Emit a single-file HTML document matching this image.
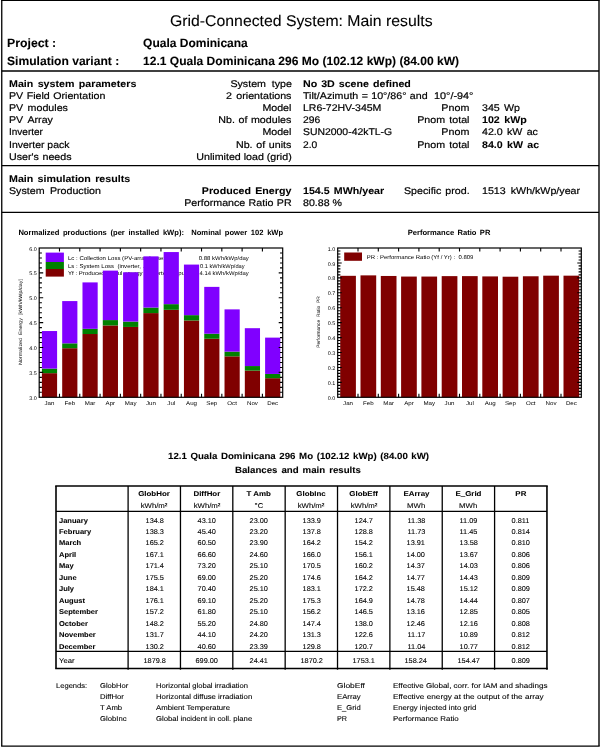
<!DOCTYPE html>
<html lang="en"><head><meta charset="utf-8"><title>Grid-Connected System: Main results</title><style>
html,body{margin:0;padding:0;background:#fff}
body{width:601px;height:750px;position:relative;overflow:hidden;font-family:"Liberation Sans",Arial,sans-serif;color:#000;text-rendering:geometricPrecision}
.t{position:absolute;white-space:pre;line-height:1;display:block;-webkit-text-stroke:0.2px #000;transform-origin:0 0}
.b{font-weight:700;-webkit-text-stroke-width:0.08px}
.th{-webkit-text-stroke-width:0.1px}
.f7{font-size:7px}
.f7_5{font-size:7.5px}
.f9{font-size:9px}
.f9_7{font-size:9.7px}
.f12{font-size:12px}
.f15_5{font-size:15.5px}

.l{position:absolute}
svg text{white-space:pre}
</style></head>
<body>
<svg class="rules" width="601" height="750" viewBox="0 0 601 750" style="position:absolute;left:0;top:0" stroke="#000" fill="none"><path d="M1.10 0.30H599.70" stroke-width="1.3"/><path d="M1.10 746.10H599.70" stroke-width="1.3"/><path d="M1.75 0.30V746.10" stroke-width="1.3"/><path d="M599.00 0.30V746.10" stroke-width="1.4"/><path d="M1.75 71.00H599.00" stroke-width="1.3"/><path d="M1.75 165.60H599.00" stroke-width="1.3"/><path d="M1.75 212.40H599.00" stroke-width="1.35"/><path d="M55.20 486.00H547.75" stroke-width="1.6"/><path d="M55.20 668.50H547.75" stroke-width="1.5"/><path d="M56.00 511.40H546.95" stroke-width="1.35"/><path d="M56.00 651.40H546.95" stroke-width="1.25"/><path d="M56.00 486.00V668.50" stroke-width="1.6"/><path d="M546.95 486.00V669.70" stroke-width="1.6"/><path d="M128.10 486.00V669.70" stroke-width="1.3"/><path d="M180.46 486.00V669.70" stroke-width="1.3"/><path d="M232.81 486.00V669.70" stroke-width="1.3"/><path d="M285.17 486.00V669.70" stroke-width="1.3"/><path d="M337.52 486.00V669.70" stroke-width="1.3"/><path d="M389.88 486.00V669.70" stroke-width="1.3"/><path d="M442.24 486.00V669.70" stroke-width="1.3"/><path d="M494.59 486.00V669.70" stroke-width="1.3"/></svg>
<!-- page frame -->
<!-- header -->
<span class="t f15_5" style="top:14.00px;left:170.07px;transform:scaleX(1.0193);-webkit-text-stroke-width:0.1px;">Grid-Connected System: Main results</span>
<span class="t b f12" style="top:36.80px;left:7.48px;transform:scaleX(1.0247);">Project :</span>
<span class="t b f12" style="top:36.80px;left:143.08px;">Quala Dominicana</span>
<span class="t b f12" style="top:55.00px;left:7.48px;transform:scaleX(1.0076);">Simulation variant :</span>
<span class="t b f12" style="top:55.00px;left:143.48px;transform:scaleX(1.0039);">12.1 Quala Dominicana 296 Mo (102.12 kWp) (84.00 kW)</span>
<!-- main system parameters -->
<span class="t b f9_7" style="top:80.00px;word-spacing:1.330px;left:9.42px;transform:scaleX(1.1000);">Main system parameters</span>
<span class="t f9_7" style="top:92.10px;word-spacing:0.448px;left:9.42px;transform:scaleX(1.1000);">PV Field Orientation</span>
<span class="t f9_7" style="top:104.20px;word-spacing:1.310px;left:9.42px;transform:scaleX(1.1000);">PV modules</span>
<span class="t f9_7" style="top:116.30px;word-spacing:1.698px;left:9.42px;transform:scaleX(1.1000);">PV Array</span>
<span class="t f9_7" style="top:128.40px;left:9.42px;transform:scaleX(1.0330);">Inverter</span>
<span class="t f9_7" style="top:140.50px;left:9.42px;transform:scaleX(1.0785);">Inverter pack</span>
<span class="t f9_7" style="top:152.60px;word-spacing:0.576px;left:9.42px;transform:scaleX(1.1000);">User's needs</span>
<span class="t f9_7" style="top:80.00px;word-spacing:2.513px;left:235.51px;transform-origin:100% 0;transform:scaleX(1.1000);">System type</span>
<span class="t f9_7" style="top:92.10px;word-spacing:1.280px;left:231.87px;transform-origin:100% 0;transform:scaleX(1.1000);">2 orientations</span>
<span class="t f9_7" style="top:104.20px;left:264.97px;transform-origin:100% 0;transform:scaleX(1.0965);">Model</span>
<span class="t f9_7" style="top:116.30px;word-spacing:0.549px;left:225.05px;transform-origin:100% 0;transform:scaleX(1.1000);">Nb. of modules</span>
<span class="t f9_7" style="top:128.40px;left:264.97px;transform-origin:100% 0;transform:scaleX(1.0965);">Model</span>
<span class="t f9_7" style="top:140.50px;word-spacing:0.682px;left:240.96px;transform-origin:100% 0;transform:scaleX(1.1000);">Nb. of units</span>
<span class="t f9_7" style="top:152.60px;left:204.59px;transform-origin:100% 0;transform:scaleX(1.1000);">Unlimited load (grid)</span>
<span class="t b f9_7" style="top:80.00px;word-spacing:0.915px;left:303.12px;transform:scaleX(1.1000);">No 3D scene defined</span>
<span class="t f9_7" style="top:92.10px;word-spacing:0.386px;left:303.12px;transform:scaleX(1.1000);">Tilt/Azimuth = 10°/86° and</span>
<span class="t f9_7" style="top:92.10px;left:433.92px;transform:scaleX(1.1193);">10°/-94°</span>
<span class="t f9_7" style="top:104.20px;left:303.12px;transform:scaleX(1.0861);">LR6-72HV-345M</span>
<span class="t f9_7" style="top:116.30px;left:303.12px;transform:scaleX(1.0671);">296</span>
<span class="t f9_7" style="top:128.40px;left:303.12px;transform:scaleX(1.0752);">SUN2000-42kTL-G</span>
<span class="t f9_7" style="top:140.50px;left:303.12px;transform:scaleX(1.0583);">2.0</span>
<span class="t f9_7" style="top:104.20px;left:444.35px;transform-origin:100% 0;transform:scaleX(1.1038);">Pnom</span>
<span class="t f9_7" style="top:116.30px;word-spacing:1.149px;left:422.17px;transform-origin:100% 0;transform:scaleX(1.1000);">Pnom total</span>
<span class="t f9_7" style="top:128.40px;left:444.35px;transform-origin:100% 0;transform:scaleX(1.1038);">Pnom</span>
<span class="t f9_7" style="top:140.50px;word-spacing:1.149px;left:422.17px;transform-origin:100% 0;transform:scaleX(1.1000);">Pnom total</span>
<span class="t f9_7" style="top:104.20px;word-spacing:1.089px;left:481.92px;transform:scaleX(1.1000);">345 Wp</span>
<span class="t b f9_7" style="top:116.30px;word-spacing:1.346px;left:481.92px;transform:scaleX(1.1000);">102 kWp</span>
<span class="t f9_7" style="top:128.40px;word-spacing:1.181px;left:481.92px;transform:scaleX(1.1000);">42.0 kW ac</span>
<span class="t b f9_7" style="top:140.50px;word-spacing:1.228px;left:481.92px;transform:scaleX(1.1000);">84.0 kW ac</span>
<!-- main simulation results -->
<span class="t b f9_7" style="top:174.60px;word-spacing:1.223px;left:9.42px;transform:scaleX(1.1000);">Main simulation results</span>
<span class="t f9_7" style="top:186.70px;word-spacing:2.201px;left:9.42px;transform:scaleX(1.1000);">System Production</span>
<span class="t b f9_7" style="top:186.70px;word-spacing:1.113px;left:209.56px;transform-origin:100% 0;transform:scaleX(1.1000);">Produced Energy</span>
<span class="t f9_7" style="top:198.80px;word-spacing:0.376px;left:193.60px;transform-origin:100% 0;transform:scaleX(1.1000);">Performance Ratio PR</span>
<span class="t b f9_7" style="top:186.70px;word-spacing:1.098px;left:303.12px;transform:scaleX(1.1000);">154.5 MWh/year</span>
<span class="t f9_7" style="top:198.80px;left:303.12px;transform:scaleX(1.0949);">80.88 %</span>
<span class="t f9_7" style="top:186.70px;word-spacing:0.931px;left:403.72px;transform:scaleX(1.1000);">Specific prod.</span>
<span class="t f9_7" style="top:186.70px;word-spacing:1.912px;left:482.32px;transform:scaleX(1.1000);">1513 kWh/kWp/year</span>
<!-- charts -->
<svg class="charts" width="601" height="200" viewBox="0 215 601 200" style="position:absolute;left:0;top:215px" font-family="Liberation Sans, Arial, sans-serif">
<g id="normalized-productions"><text x="18.40" y="235.00" font-size="7.6" font-weight="700" word-spacing="1.527">Normalized productions (per installed kWp):  Nominal power 102 kWp</text><text x="22.00" y="322.00" font-size="4.8" text-anchor="middle" textLength="86.00" lengthAdjust="spacingAndGlyphs" transform="rotate(-90 22.00 322.00)">Normalized  Energy  [kWh/kWp/day]</text><text x="68.00" y="260.00" font-size="5.6" textLength="100.50" lengthAdjust="spacingAndGlyphs">Lc : Collection Loss (PV-array losses)</text><text x="68.00" y="267.60" font-size="5.6" textLength="81.67" lengthAdjust="spacingAndGlyphs">Ls : System Loss  (inverter, ...)</text><text x="68.00" y="275.20" font-size="5.6" textLength="120.69" lengthAdjust="spacingAndGlyphs">Yf : Produced useful energy  (inverter output)</text><text x="198.80" y="260.00" font-size="5.6" textLength="50.00" lengthAdjust="spacingAndGlyphs">0.88 kWh/kWp/day</text><text x="200.00" y="267.60" font-size="5.6" textLength="44.60" lengthAdjust="spacingAndGlyphs">0.1 kWh/kWp/day</text><text x="199.50" y="275.20" font-size="5.6" textLength="49.30" lengthAdjust="spacingAndGlyphs">4.14 kWh/kWp/day</text><rect x="41.90" y="373.16" width="15.2" height="24.14" fill="#800000"/><rect x="41.90" y="368.60" width="15.2" height="4.56" fill="#008000"/><rect x="41.90" y="331.04" width="15.2" height="37.56" fill="#8000ff"/><rect x="62.19" y="348.21" width="15.2" height="49.09" fill="#800000"/><rect x="62.19" y="343.34" width="15.2" height="4.87" fill="#008000"/><rect x="62.19" y="301.08" width="15.2" height="42.26" fill="#8000ff"/><rect x="82.48" y="334.02" width="15.2" height="63.28" fill="#800000"/><rect x="82.48" y="328.83" width="15.2" height="5.19" fill="#008000"/><rect x="82.48" y="282.40" width="15.2" height="46.43" fill="#8000ff"/><rect x="102.78" y="325.44" width="15.2" height="71.86" fill="#800000"/><rect x="102.78" y="320.08" width="15.2" height="5.36" fill="#008000"/><rect x="102.78" y="270.62" width="15.2" height="49.45" fill="#8000ff"/><rect x="123.07" y="326.94" width="15.2" height="70.36" fill="#800000"/><rect x="123.07" y="321.60" width="15.2" height="5.34" fill="#008000"/><rect x="123.07" y="272.28" width="15.2" height="49.31" fill="#8000ff"/><rect x="143.36" y="313.09" width="15.2" height="84.21" fill="#800000"/><rect x="143.36" y="307.57" width="15.2" height="5.52" fill="#008000"/><rect x="143.36" y="256.36" width="15.2" height="51.21" fill="#8000ff"/><rect x="163.65" y="309.81" width="15.2" height="87.49" fill="#800000"/><rect x="163.65" y="304.15" width="15.2" height="5.66" fill="#008000"/><rect x="163.65" y="252.06" width="15.2" height="52.09" fill="#8000ff"/><rect x="183.94" y="320.50" width="15.2" height="76.80" fill="#800000"/><rect x="183.94" y="315.15" width="15.2" height="5.34" fill="#008000"/><rect x="183.94" y="264.58" width="15.2" height="50.57" fill="#8000ff"/><rect x="204.23" y="338.76" width="15.2" height="58.54" fill="#800000"/><rect x="204.23" y="333.72" width="15.2" height="5.04" fill="#008000"/><rect x="204.23" y="286.88" width="15.2" height="46.84" fill="#8000ff"/><rect x="224.52" y="356.34" width="15.2" height="40.96" fill="#800000"/><rect x="224.52" y="351.62" width="15.2" height="4.72" fill="#008000"/><rect x="224.52" y="309.37" width="15.2" height="42.26" fill="#8000ff"/><rect x="244.82" y="370.60" width="15.2" height="26.70" fill="#800000"/><rect x="244.82" y="366.05" width="15.2" height="4.55" fill="#008000"/><rect x="244.82" y="328.19" width="15.2" height="37.86" fill="#8000ff"/><rect x="265.11" y="378.19" width="15.2" height="19.11" fill="#800000"/><rect x="265.11" y="373.95" width="15.2" height="4.24" fill="#008000"/><rect x="265.11" y="337.62" width="15.2" height="36.32" fill="#8000ff"/><rect x="39.20" y="248.00" width="243.50" height="149.30" fill="none" stroke="#000" stroke-width="1.2"/><path d="M59.49 248.00v3.6M59.49 397.30v-3.6M79.78 248.00v3.6M79.78 397.30v-3.6M100.08 248.00v3.6M100.08 397.30v-3.6M120.37 248.00v3.6M120.37 397.30v-3.6M140.66 248.00v3.6M140.66 397.30v-3.6M160.95 248.00v3.6M160.95 397.30v-3.6M181.24 248.00v3.6M181.24 397.30v-3.6M201.53 248.00v3.6M201.53 397.30v-3.6M221.82 248.00v3.6M221.82 397.30v-3.6M242.12 248.00v3.6M242.12 397.30v-3.6M262.41 248.00v3.6M262.41 397.30v-3.6M39.20 392.32h2.7M282.70 392.32h-2.7M39.20 387.35h2.7M282.70 387.35h-2.7M39.20 382.37h2.7M282.70 382.37h-2.7M39.20 377.39h2.7M282.70 377.39h-2.7M39.20 372.42h4.0M282.70 372.42h-4.0M39.20 367.44h2.7M282.70 367.44h-2.7M39.20 362.46h2.7M282.70 362.46h-2.7M39.20 357.49h2.7M282.70 357.49h-2.7M39.20 352.51h2.7M282.70 352.51h-2.7M39.20 347.53h4.0M282.70 347.53h-4.0M39.20 342.56h2.7M282.70 342.56h-2.7M39.20 337.58h2.7M282.70 337.58h-2.7M39.20 332.60h2.7M282.70 332.60h-2.7M39.20 327.63h2.7M282.70 327.63h-2.7M39.20 322.65h4.0M282.70 322.65h-4.0M39.20 317.67h2.7M282.70 317.67h-2.7M39.20 312.70h2.7M282.70 312.70h-2.7M39.20 307.72h2.7M282.70 307.72h-2.7M39.20 302.74h2.7M282.70 302.74h-2.7M39.20 297.77h4.0M282.70 297.77h-4.0M39.20 292.79h2.7M282.70 292.79h-2.7M39.20 287.81h2.7M282.70 287.81h-2.7M39.20 282.84h2.7M282.70 282.84h-2.7M39.20 277.86h2.7M282.70 277.86h-2.7M39.20 272.88h4.0M282.70 272.88h-4.0M39.20 267.91h2.7M282.70 267.91h-2.7M39.20 262.93h2.7M282.70 262.93h-2.7M39.20 257.95h2.7M282.70 257.95h-2.7M39.20 252.98h2.7M282.70 252.98h-2.7" stroke="#000" stroke-width="1.1" fill="none"/><text x="36.80" y="399.90" font-size="5.3" text-anchor="end" textLength="7.52" lengthAdjust="spacingAndGlyphs">3.0</text><text x="36.80" y="375.02" font-size="5.3" text-anchor="end" textLength="7.52" lengthAdjust="spacingAndGlyphs">3.5</text><text x="36.80" y="350.13" font-size="5.3" text-anchor="end" textLength="7.52" lengthAdjust="spacingAndGlyphs">4.0</text><text x="36.80" y="325.25" font-size="5.3" text-anchor="end" textLength="7.52" lengthAdjust="spacingAndGlyphs">4.5</text><text x="36.80" y="300.37" font-size="5.3" text-anchor="end" textLength="7.52" lengthAdjust="spacingAndGlyphs">5.0</text><text x="36.80" y="275.48" font-size="5.3" text-anchor="end" textLength="7.52" lengthAdjust="spacingAndGlyphs">5.5</text><text x="36.80" y="250.60" font-size="5.3" text-anchor="end" textLength="7.52" lengthAdjust="spacingAndGlyphs">6.0</text><text x="49.50" y="404.60" font-size="5.5" text-anchor="middle" textLength="9.93" lengthAdjust="spacingAndGlyphs">Jan</text><text x="69.79" y="404.60" font-size="5.5" text-anchor="middle" textLength="10.61" lengthAdjust="spacingAndGlyphs">Feb</text><text x="90.08" y="404.60" font-size="5.5" text-anchor="middle" textLength="10.61" lengthAdjust="spacingAndGlyphs">Mar</text><text x="110.38" y="404.60" font-size="5.5" text-anchor="middle" textLength="9.59" lengthAdjust="spacingAndGlyphs">Apr</text><text x="130.67" y="404.60" font-size="5.5" text-anchor="middle" textLength="11.64" lengthAdjust="spacingAndGlyphs">May</text><text x="150.96" y="404.60" font-size="5.5" text-anchor="middle" textLength="9.93" lengthAdjust="spacingAndGlyphs">Jun</text><text x="171.25" y="404.60" font-size="5.5" text-anchor="middle" textLength="7.87" lengthAdjust="spacingAndGlyphs">Jul</text><text x="191.54" y="404.60" font-size="5.5" text-anchor="middle" textLength="10.96" lengthAdjust="spacingAndGlyphs">Aug</text><text x="211.83" y="404.60" font-size="5.5" text-anchor="middle" textLength="10.96" lengthAdjust="spacingAndGlyphs">Sep</text><text x="232.12" y="404.60" font-size="5.5" text-anchor="middle" textLength="9.58" lengthAdjust="spacingAndGlyphs">Oct</text><text x="252.42" y="404.60" font-size="5.5" text-anchor="middle" textLength="10.95" lengthAdjust="spacingAndGlyphs">Nov</text><text x="272.71" y="404.60" font-size="5.5" text-anchor="middle" textLength="10.95" lengthAdjust="spacingAndGlyphs">Dec</text><rect x="45.7" y="252.6" width="18.2" height="9.4" fill="#8000ff"/><rect x="45.7" y="262" width="18.2" height="7" fill="#008000"/><rect x="45.7" y="269" width="18.2" height="7.6" fill="#800000"/></g>
<g id="performance-ratio"><text x="407.70" y="235.00" font-size="7.6" font-weight="700" word-spacing="1.277">Performance Ratio PR</text><text x="366.70" y="259.30" font-size="5.6" textLength="106.70" lengthAdjust="spacingAndGlyphs">PR : Performance Ratio (Yf / Yr) :  0.809</text><text x="320.00" y="322.00" font-size="4.8" text-anchor="middle" textLength="51.50" lengthAdjust="spacingAndGlyphs" transform="rotate(-90 320.00 322.00)">Performance  Ratio  PR</text><rect x="340.20" y="275.82" width="15.7" height="121.48" fill="#800000"/><rect x="360.50" y="275.37" width="15.7" height="121.93" fill="#800000"/><rect x="380.80" y="275.97" width="15.7" height="121.33" fill="#800000"/><rect x="401.10" y="276.56" width="15.7" height="120.74" fill="#800000"/><rect x="421.40" y="276.56" width="15.7" height="120.74" fill="#800000"/><rect x="441.70" y="276.12" width="15.7" height="121.18" fill="#800000"/><rect x="462.00" y="276.12" width="15.7" height="121.18" fill="#800000"/><rect x="482.30" y="276.41" width="15.7" height="120.89" fill="#800000"/><rect x="502.60" y="276.71" width="15.7" height="120.59" fill="#800000"/><rect x="522.90" y="276.27" width="15.7" height="121.03" fill="#800000"/><rect x="543.20" y="275.67" width="15.7" height="121.63" fill="#800000"/><rect x="563.50" y="275.67" width="15.7" height="121.63" fill="#800000"/><rect x="337.70" y="248.00" width="243.60" height="149.30" fill="none" stroke="#000" stroke-width="1.2"/><path d="M358.00 248.00v3.6M358.00 397.30v-3.6M378.30 248.00v3.6M378.30 397.30v-3.6M398.60 248.00v3.6M398.60 397.30v-3.6M418.90 248.00v3.6M418.90 397.30v-3.6M439.20 248.00v3.6M439.20 397.30v-3.6M459.50 248.00v3.6M459.50 397.30v-3.6M479.80 248.00v3.6M479.80 397.30v-3.6M500.10 248.00v3.6M500.10 397.30v-3.6M520.40 248.00v3.6M520.40 397.30v-3.6M540.70 248.00v3.6M540.70 397.30v-3.6M561.00 248.00v3.6M561.00 397.30v-3.6M337.70 394.31h2.7M581.30 394.31h-2.7M337.70 391.33h2.7M581.30 391.33h-2.7M337.70 388.34h2.7M581.30 388.34h-2.7M337.70 385.36h2.7M581.30 385.36h-2.7M337.70 382.37h4.0M581.30 382.37h-4.0M337.70 379.38h2.7M581.30 379.38h-2.7M337.70 376.40h2.7M581.30 376.40h-2.7M337.70 373.41h2.7M581.30 373.41h-2.7M337.70 370.43h2.7M581.30 370.43h-2.7M337.70 367.44h4.0M581.30 367.44h-4.0M337.70 364.45h2.7M581.30 364.45h-2.7M337.70 361.47h2.7M581.30 361.47h-2.7M337.70 358.48h2.7M581.30 358.48h-2.7M337.70 355.50h2.7M581.30 355.50h-2.7M337.70 352.51h4.0M581.30 352.51h-4.0M337.70 349.52h2.7M581.30 349.52h-2.7M337.70 346.54h2.7M581.30 346.54h-2.7M337.70 343.55h2.7M581.30 343.55h-2.7M337.70 340.57h2.7M581.30 340.57h-2.7M337.70 337.58h4.0M581.30 337.58h-4.0M337.70 334.59h2.7M581.30 334.59h-2.7M337.70 331.61h2.7M581.30 331.61h-2.7M337.70 328.62h2.7M581.30 328.62h-2.7M337.70 325.64h2.7M581.30 325.64h-2.7M337.70 322.65h4.0M581.30 322.65h-4.0M337.70 319.66h2.7M581.30 319.66h-2.7M337.70 316.68h2.7M581.30 316.68h-2.7M337.70 313.69h2.7M581.30 313.69h-2.7M337.70 310.71h2.7M581.30 310.71h-2.7M337.70 307.72h4.0M581.30 307.72h-4.0M337.70 304.73h2.7M581.30 304.73h-2.7M337.70 301.75h2.7M581.30 301.75h-2.7M337.70 298.76h2.7M581.30 298.76h-2.7M337.70 295.78h2.7M581.30 295.78h-2.7M337.70 292.79h4.0M581.30 292.79h-4.0M337.70 289.80h2.7M581.30 289.80h-2.7M337.70 286.82h2.7M581.30 286.82h-2.7M337.70 283.83h2.7M581.30 283.83h-2.7M337.70 280.85h2.7M581.30 280.85h-2.7M337.70 277.86h4.0M581.30 277.86h-4.0M337.70 274.87h2.7M581.30 274.87h-2.7M337.70 271.89h2.7M581.30 271.89h-2.7M337.70 268.90h2.7M581.30 268.90h-2.7M337.70 265.92h2.7M581.30 265.92h-2.7M337.70 262.93h4.0M581.30 262.93h-4.0M337.70 259.94h2.7M581.30 259.94h-2.7M337.70 256.96h2.7M581.30 256.96h-2.7M337.70 253.97h2.7M581.30 253.97h-2.7M337.70 250.99h2.7M581.30 250.99h-2.7" stroke="#000" stroke-width="1.1" fill="none"/><text x="335.30" y="399.90" font-size="5.3" text-anchor="end" textLength="7.52" lengthAdjust="spacingAndGlyphs">0.0</text><text x="335.30" y="384.97" font-size="5.3" text-anchor="end" textLength="7.52" lengthAdjust="spacingAndGlyphs">0.1</text><text x="335.30" y="370.04" font-size="5.3" text-anchor="end" textLength="7.52" lengthAdjust="spacingAndGlyphs">0.2</text><text x="335.30" y="355.11" font-size="5.3" text-anchor="end" textLength="7.52" lengthAdjust="spacingAndGlyphs">0.3</text><text x="335.30" y="340.18" font-size="5.3" text-anchor="end" textLength="7.52" lengthAdjust="spacingAndGlyphs">0.4</text><text x="335.30" y="325.25" font-size="5.3" text-anchor="end" textLength="7.52" lengthAdjust="spacingAndGlyphs">0.5</text><text x="335.30" y="310.32" font-size="5.3" text-anchor="end" textLength="7.52" lengthAdjust="spacingAndGlyphs">0.6</text><text x="335.30" y="295.39" font-size="5.3" text-anchor="end" textLength="7.52" lengthAdjust="spacingAndGlyphs">0.7</text><text x="335.30" y="280.46" font-size="5.3" text-anchor="end" textLength="7.52" lengthAdjust="spacingAndGlyphs">0.8</text><text x="335.30" y="265.53" font-size="5.3" text-anchor="end" textLength="7.52" lengthAdjust="spacingAndGlyphs">0.9</text><text x="335.30" y="250.60" font-size="5.3" text-anchor="end" textLength="7.52" lengthAdjust="spacingAndGlyphs">1.0</text><text x="348.05" y="404.60" font-size="5.5" text-anchor="middle" textLength="9.93" lengthAdjust="spacingAndGlyphs">Jan</text><text x="368.35" y="404.60" font-size="5.5" text-anchor="middle" textLength="10.61" lengthAdjust="spacingAndGlyphs">Feb</text><text x="388.65" y="404.60" font-size="5.5" text-anchor="middle" textLength="10.61" lengthAdjust="spacingAndGlyphs">Mar</text><text x="408.95" y="404.60" font-size="5.5" text-anchor="middle" textLength="9.59" lengthAdjust="spacingAndGlyphs">Apr</text><text x="429.25" y="404.60" font-size="5.5" text-anchor="middle" textLength="11.64" lengthAdjust="spacingAndGlyphs">May</text><text x="449.55" y="404.60" font-size="5.5" text-anchor="middle" textLength="9.93" lengthAdjust="spacingAndGlyphs">Jun</text><text x="469.85" y="404.60" font-size="5.5" text-anchor="middle" textLength="7.87" lengthAdjust="spacingAndGlyphs">Jul</text><text x="490.15" y="404.60" font-size="5.5" text-anchor="middle" textLength="10.96" lengthAdjust="spacingAndGlyphs">Aug</text><text x="510.45" y="404.60" font-size="5.5" text-anchor="middle" textLength="10.96" lengthAdjust="spacingAndGlyphs">Sep</text><text x="530.75" y="404.60" font-size="5.5" text-anchor="middle" textLength="9.58" lengthAdjust="spacingAndGlyphs">Oct</text><text x="551.05" y="404.60" font-size="5.5" text-anchor="middle" textLength="10.95" lengthAdjust="spacingAndGlyphs">Nov</text><text x="571.35" y="404.60" font-size="5.5" text-anchor="middle" textLength="10.95" lengthAdjust="spacingAndGlyphs">Dec</text><rect x="344.2" y="252.5" width="17.8" height="8.3" fill="#800000"/></g>
</svg>
<!-- balances table -->
<span class="t b f9" style="top:451.80px;word-spacing:0.849px;left:167.76px;transform:scaleX(1.0750);">12.1 Quala Dominicana 296 Mo (102.12 kWp) (84.00 kW)</span>
<span class="t b f9" style="top:465.60px;word-spacing:1.190px;left:235.06px;transform:scaleX(1.0750);">Balances and main results</span>
<span class="t b f7" style="top:491.00px;left:140.28px;transform-origin:50% 0;transform:scaleX(1.1300);">GlobHor</span>
<span class="t th f7" style="top:502.80px;left:142.22px;transform-origin:50% 0;transform:scaleX(1.1100);">kWh/m²</span>
<span class="t b f7" style="top:491.00px;left:194.78px;transform-origin:50% 0;transform:scaleX(1.1300);">DiffHor</span>
<span class="t th f7" style="top:502.80px;left:194.58px;transform-origin:50% 0;transform:scaleX(1.1100);">kWh/m²</span>
<span class="t b f7" style="top:491.00px;left:248.23px;transform-origin:50% 0;transform:scaleX(1.1300);">T Amb</span>
<span class="t th f7" style="top:502.80px;left:255.06px;transform-origin:50% 0;transform:scaleX(1.1100);">°C</span>
<span class="t b f7" style="top:491.00px;left:298.32px;transform-origin:50% 0;transform:scaleX(1.1300);">GlobInc</span>
<span class="t th f7" style="top:502.80px;left:299.29px;transform-origin:50% 0;transform:scaleX(1.1100);">kWh/m²</span>
<span class="t b f7" style="top:491.00px;left:351.07px;transform-origin:50% 0;transform:scaleX(1.1300);">GlobEff</span>
<span class="t th f7" style="top:502.80px;left:351.65px;transform-origin:50% 0;transform:scaleX(1.1100);">kWh/m²</span>
<span class="t b f7" style="top:491.00px;left:404.58px;transform-origin:50% 0;transform:scaleX(1.1300);">EArray</span>
<span class="t th f7" style="top:502.80px;left:407.89px;transform-origin:50% 0;transform:scaleX(1.1100);">MWh</span>
<span class="t b f7" style="top:491.00px;left:456.94px;transform-origin:50% 0;transform:scaleX(1.1300);">E_Grid</span>
<span class="t th f7" style="top:502.80px;left:460.25px;transform-origin:50% 0;transform:scaleX(1.1100);">MWh</span>
<span class="t b f7" style="top:491.00px;left:515.91px;transform-origin:50% 0;transform:scaleX(1.1300);">PR</span>
<span class="t b f7" style="top:517.60px;left:58.98px;transform:scaleX(1.0750);">January</span>
<span class="t th f7" style="top:517.60px;left:145.52px;transform-origin:50% 0;transform:scaleX(1.0500);">134.8</span>
<span class="t th f7" style="top:517.60px;left:197.88px;transform-origin:50% 0;transform:scaleX(1.0500);">43.10</span>
<span class="t th f7" style="top:517.60px;left:250.23px;transform-origin:50% 0;transform:scaleX(1.0500);">23.00</span>
<span class="t th f7" style="top:517.60px;left:302.59px;transform-origin:50% 0;transform:scaleX(1.0500);">133.9</span>
<span class="t th f7" style="top:517.60px;left:354.94px;transform-origin:50% 0;transform:scaleX(1.0500);">124.7</span>
<span class="t th f7" style="top:517.60px;left:407.56px;transform-origin:50% 0;transform:scaleX(1.0500);">11.38</span>
<span class="t th f7" style="top:517.60px;left:459.92px;transform-origin:50% 0;transform:scaleX(1.0500);">11.09</span>
<span class="t th f7" style="top:517.60px;left:512.27px;transform-origin:50% 0;transform:scaleX(1.0500);">0.811</span>
<span class="t b f7" style="top:529.05px;left:58.98px;transform:scaleX(1.0750);">February</span>
<span class="t th f7" style="top:529.05px;left:145.52px;transform-origin:50% 0;transform:scaleX(1.0500);">138.3</span>
<span class="t th f7" style="top:529.05px;left:197.88px;transform-origin:50% 0;transform:scaleX(1.0500);">45.40</span>
<span class="t th f7" style="top:529.05px;left:250.23px;transform-origin:50% 0;transform:scaleX(1.0500);">23.20</span>
<span class="t th f7" style="top:529.05px;left:302.59px;transform-origin:50% 0;transform:scaleX(1.0500);">137.8</span>
<span class="t th f7" style="top:529.05px;left:354.94px;transform-origin:50% 0;transform:scaleX(1.0500);">128.8</span>
<span class="t th f7" style="top:529.05px;left:407.56px;transform-origin:50% 0;transform:scaleX(1.0500);">11.73</span>
<span class="t th f7" style="top:529.05px;left:459.92px;transform-origin:50% 0;transform:scaleX(1.0500);">11.45</span>
<span class="t th f7" style="top:529.05px;left:512.01px;transform-origin:50% 0;transform:scaleX(1.0500);">0.814</span>
<span class="t b f7" style="top:540.49px;left:58.98px;transform:scaleX(1.0750);">March</span>
<span class="t th f7" style="top:540.49px;left:145.52px;transform-origin:50% 0;transform:scaleX(1.0500);">165.2</span>
<span class="t th f7" style="top:540.49px;left:197.88px;transform-origin:50% 0;transform:scaleX(1.0500);">60.50</span>
<span class="t th f7" style="top:540.49px;left:250.23px;transform-origin:50% 0;transform:scaleX(1.0500);">23.90</span>
<span class="t th f7" style="top:540.49px;left:302.59px;transform-origin:50% 0;transform:scaleX(1.0500);">164.2</span>
<span class="t th f7" style="top:540.49px;left:354.94px;transform-origin:50% 0;transform:scaleX(1.0500);">154.2</span>
<span class="t th f7" style="top:540.49px;left:407.30px;transform-origin:50% 0;transform:scaleX(1.0500);">13.91</span>
<span class="t th f7" style="top:540.49px;left:459.66px;transform-origin:50% 0;transform:scaleX(1.0500);">13.58</span>
<span class="t th f7" style="top:540.49px;left:512.01px;transform-origin:50% 0;transform:scaleX(1.0500);">0.810</span>
<span class="t b f7" style="top:551.94px;left:58.98px;transform:scaleX(1.0750);">April</span>
<span class="t th f7" style="top:551.94px;left:145.52px;transform-origin:50% 0;transform:scaleX(1.0500);">167.1</span>
<span class="t th f7" style="top:551.94px;left:197.88px;transform-origin:50% 0;transform:scaleX(1.0500);">66.60</span>
<span class="t th f7" style="top:551.94px;left:250.23px;transform-origin:50% 0;transform:scaleX(1.0500);">24.60</span>
<span class="t th f7" style="top:551.94px;left:302.59px;transform-origin:50% 0;transform:scaleX(1.0500);">166.0</span>
<span class="t th f7" style="top:551.94px;left:354.94px;transform-origin:50% 0;transform:scaleX(1.0500);">156.1</span>
<span class="t th f7" style="top:551.94px;left:407.30px;transform-origin:50% 0;transform:scaleX(1.0500);">14.00</span>
<span class="t th f7" style="top:551.94px;left:459.66px;transform-origin:50% 0;transform:scaleX(1.0500);">13.67</span>
<span class="t th f7" style="top:551.94px;left:512.01px;transform-origin:50% 0;transform:scaleX(1.0500);">0.806</span>
<span class="t b f7" style="top:563.38px;left:58.98px;transform:scaleX(1.0750);">May</span>
<span class="t th f7" style="top:563.38px;left:145.52px;transform-origin:50% 0;transform:scaleX(1.0500);">171.4</span>
<span class="t th f7" style="top:563.38px;left:197.88px;transform-origin:50% 0;transform:scaleX(1.0500);">73.20</span>
<span class="t th f7" style="top:563.38px;left:250.23px;transform-origin:50% 0;transform:scaleX(1.0500);">25.10</span>
<span class="t th f7" style="top:563.38px;left:302.59px;transform-origin:50% 0;transform:scaleX(1.0500);">170.5</span>
<span class="t th f7" style="top:563.38px;left:354.94px;transform-origin:50% 0;transform:scaleX(1.0500);">160.2</span>
<span class="t th f7" style="top:563.38px;left:407.30px;transform-origin:50% 0;transform:scaleX(1.0500);">14.37</span>
<span class="t th f7" style="top:563.38px;left:459.66px;transform-origin:50% 0;transform:scaleX(1.0500);">14.03</span>
<span class="t th f7" style="top:563.38px;left:512.01px;transform-origin:50% 0;transform:scaleX(1.0500);">0.806</span>
<span class="t b f7" style="top:574.83px;left:58.98px;transform:scaleX(1.0750);">June</span>
<span class="t th f7" style="top:574.83px;left:145.52px;transform-origin:50% 0;transform:scaleX(1.0500);">175.5</span>
<span class="t th f7" style="top:574.83px;left:197.88px;transform-origin:50% 0;transform:scaleX(1.0500);">69.00</span>
<span class="t th f7" style="top:574.83px;left:250.23px;transform-origin:50% 0;transform:scaleX(1.0500);">25.20</span>
<span class="t th f7" style="top:574.83px;left:302.59px;transform-origin:50% 0;transform:scaleX(1.0500);">174.6</span>
<span class="t th f7" style="top:574.83px;left:354.94px;transform-origin:50% 0;transform:scaleX(1.0500);">164.2</span>
<span class="t th f7" style="top:574.83px;left:407.30px;transform-origin:50% 0;transform:scaleX(1.0500);">14.77</span>
<span class="t th f7" style="top:574.83px;left:459.66px;transform-origin:50% 0;transform:scaleX(1.0500);">14.43</span>
<span class="t th f7" style="top:574.83px;left:512.01px;transform-origin:50% 0;transform:scaleX(1.0500);">0.809</span>
<span class="t b f7" style="top:586.27px;left:58.98px;transform:scaleX(1.0750);">July</span>
<span class="t th f7" style="top:586.27px;left:145.52px;transform-origin:50% 0;transform:scaleX(1.0500);">184.1</span>
<span class="t th f7" style="top:586.27px;left:197.88px;transform-origin:50% 0;transform:scaleX(1.0500);">70.40</span>
<span class="t th f7" style="top:586.27px;left:250.23px;transform-origin:50% 0;transform:scaleX(1.0500);">25.10</span>
<span class="t th f7" style="top:586.27px;left:302.59px;transform-origin:50% 0;transform:scaleX(1.0500);">183.1</span>
<span class="t th f7" style="top:586.27px;left:354.94px;transform-origin:50% 0;transform:scaleX(1.0500);">172.2</span>
<span class="t th f7" style="top:586.27px;left:407.30px;transform-origin:50% 0;transform:scaleX(1.0500);">15.48</span>
<span class="t th f7" style="top:586.27px;left:459.66px;transform-origin:50% 0;transform:scaleX(1.0500);">15.12</span>
<span class="t th f7" style="top:586.27px;left:512.01px;transform-origin:50% 0;transform:scaleX(1.0500);">0.809</span>
<span class="t b f7" style="top:597.72px;left:58.98px;transform:scaleX(1.0750);">August</span>
<span class="t th f7" style="top:597.72px;left:145.52px;transform-origin:50% 0;transform:scaleX(1.0500);">176.1</span>
<span class="t th f7" style="top:597.72px;left:197.88px;transform-origin:50% 0;transform:scaleX(1.0500);">69.10</span>
<span class="t th f7" style="top:597.72px;left:250.23px;transform-origin:50% 0;transform:scaleX(1.0500);">25.20</span>
<span class="t th f7" style="top:597.72px;left:302.59px;transform-origin:50% 0;transform:scaleX(1.0500);">175.3</span>
<span class="t th f7" style="top:597.72px;left:354.94px;transform-origin:50% 0;transform:scaleX(1.0500);">164.9</span>
<span class="t th f7" style="top:597.72px;left:407.30px;transform-origin:50% 0;transform:scaleX(1.0500);">14.78</span>
<span class="t th f7" style="top:597.72px;left:459.66px;transform-origin:50% 0;transform:scaleX(1.0500);">14.44</span>
<span class="t th f7" style="top:597.72px;left:512.01px;transform-origin:50% 0;transform:scaleX(1.0500);">0.807</span>
<span class="t b f7" style="top:609.16px;left:58.98px;transform:scaleX(1.0750);">September</span>
<span class="t th f7" style="top:609.16px;left:145.52px;transform-origin:50% 0;transform:scaleX(1.0500);">157.2</span>
<span class="t th f7" style="top:609.16px;left:197.88px;transform-origin:50% 0;transform:scaleX(1.0500);">61.80</span>
<span class="t th f7" style="top:609.16px;left:250.23px;transform-origin:50% 0;transform:scaleX(1.0500);">25.10</span>
<span class="t th f7" style="top:609.16px;left:302.59px;transform-origin:50% 0;transform:scaleX(1.0500);">156.2</span>
<span class="t th f7" style="top:609.16px;left:354.94px;transform-origin:50% 0;transform:scaleX(1.0500);">146.5</span>
<span class="t th f7" style="top:609.16px;left:407.30px;transform-origin:50% 0;transform:scaleX(1.0500);">13.16</span>
<span class="t th f7" style="top:609.16px;left:459.66px;transform-origin:50% 0;transform:scaleX(1.0500);">12.85</span>
<span class="t th f7" style="top:609.16px;left:512.01px;transform-origin:50% 0;transform:scaleX(1.0500);">0.805</span>
<span class="t b f7" style="top:620.61px;left:58.98px;transform:scaleX(1.0750);">October</span>
<span class="t th f7" style="top:620.61px;left:145.52px;transform-origin:50% 0;transform:scaleX(1.0500);">148.2</span>
<span class="t th f7" style="top:620.61px;left:197.88px;transform-origin:50% 0;transform:scaleX(1.0500);">55.20</span>
<span class="t th f7" style="top:620.61px;left:250.23px;transform-origin:50% 0;transform:scaleX(1.0500);">24.80</span>
<span class="t th f7" style="top:620.61px;left:302.59px;transform-origin:50% 0;transform:scaleX(1.0500);">147.4</span>
<span class="t th f7" style="top:620.61px;left:354.94px;transform-origin:50% 0;transform:scaleX(1.0500);">138.0</span>
<span class="t th f7" style="top:620.61px;left:407.30px;transform-origin:50% 0;transform:scaleX(1.0500);">12.46</span>
<span class="t th f7" style="top:620.61px;left:459.66px;transform-origin:50% 0;transform:scaleX(1.0500);">12.16</span>
<span class="t th f7" style="top:620.61px;left:512.01px;transform-origin:50% 0;transform:scaleX(1.0500);">0.808</span>
<span class="t b f7" style="top:632.05px;left:58.98px;transform:scaleX(1.0750);">November</span>
<span class="t th f7" style="top:632.05px;left:145.52px;transform-origin:50% 0;transform:scaleX(1.0500);">131.7</span>
<span class="t th f7" style="top:632.05px;left:197.88px;transform-origin:50% 0;transform:scaleX(1.0500);">44.10</span>
<span class="t th f7" style="top:632.05px;left:250.23px;transform-origin:50% 0;transform:scaleX(1.0500);">24.20</span>
<span class="t th f7" style="top:632.05px;left:302.59px;transform-origin:50% 0;transform:scaleX(1.0500);">131.3</span>
<span class="t th f7" style="top:632.05px;left:354.94px;transform-origin:50% 0;transform:scaleX(1.0500);">122.6</span>
<span class="t th f7" style="top:632.05px;left:407.56px;transform-origin:50% 0;transform:scaleX(1.0500);">11.17</span>
<span class="t th f7" style="top:632.05px;left:459.66px;transform-origin:50% 0;transform:scaleX(1.0500);">10.89</span>
<span class="t th f7" style="top:632.05px;left:512.01px;transform-origin:50% 0;transform:scaleX(1.0500);">0.812</span>
<span class="t b f7" style="top:643.50px;left:58.98px;transform:scaleX(1.0750);">December</span>
<span class="t th f7" style="top:643.50px;left:145.52px;transform-origin:50% 0;transform:scaleX(1.0500);">130.2</span>
<span class="t th f7" style="top:643.50px;left:197.88px;transform-origin:50% 0;transform:scaleX(1.0500);">40.60</span>
<span class="t th f7" style="top:643.50px;left:250.23px;transform-origin:50% 0;transform:scaleX(1.0500);">23.39</span>
<span class="t th f7" style="top:643.50px;left:302.59px;transform-origin:50% 0;transform:scaleX(1.0500);">129.8</span>
<span class="t th f7" style="top:643.50px;left:354.94px;transform-origin:50% 0;transform:scaleX(1.0500);">120.7</span>
<span class="t th f7" style="top:643.50px;left:407.56px;transform-origin:50% 0;transform:scaleX(1.0500);">11.04</span>
<span class="t th f7" style="top:643.50px;left:459.66px;transform-origin:50% 0;transform:scaleX(1.0500);">10.77</span>
<span class="t th f7" style="top:643.50px;left:512.01px;transform-origin:50% 0;transform:scaleX(1.0500);">0.812</span>
<span class="t th f7" style="top:657.50px;left:58.98px;transform:scaleX(1.1000);">Year</span>
<span class="t th f7" style="top:657.50px;left:143.57px;transform-origin:50% 0;transform:scaleX(1.0500);">1879.8</span>
<span class="t th f7" style="top:657.50px;left:195.93px;transform-origin:50% 0;transform:scaleX(1.0500);">699.00</span>
<span class="t th f7" style="top:657.50px;left:250.23px;transform-origin:50% 0;transform:scaleX(1.0500);">24.41</span>
<span class="t th f7" style="top:657.50px;left:300.64px;transform-origin:50% 0;transform:scaleX(1.0500);">1870.2</span>
<span class="t th f7" style="top:657.50px;left:353.00px;transform-origin:50% 0;transform:scaleX(1.0500);">1753.1</span>
<span class="t th f7" style="top:657.50px;left:405.35px;transform-origin:50% 0;transform:scaleX(1.0500);">158.24</span>
<span class="t th f7" style="top:657.50px;left:457.71px;transform-origin:50% 0;transform:scaleX(1.0500);">154.47</span>
<span class="t th f7" style="top:657.50px;left:512.01px;transform-origin:50% 0;transform:scaleX(1.0500);">0.809</span>
<!-- legends -->
<span class="t th f7" style="top:683.00px;left:55.78px;transform:scaleX(1.0832);">Legends:</span>
<span class="t th f7" style="top:683.00px;left:99.58px;transform:scaleX(1.0819);">GlobHor</span>
<span class="t th f7" style="top:683.00px;left:156.38px;transform:scaleX(1.0846);">Horizontal global irradiation</span>
<span class="t th f7" style="top:694.30px;left:99.58px;transform:scaleX(1.1000);">DiffHor</span>
<span class="t th f7" style="top:694.30px;left:156.38px;transform:scaleX(1.1104);">Horizontal diffuse irradiation</span>
<span class="t th f7" style="top:705.30px;left:99.58px;transform:scaleX(1.1000);">T Amb</span>
<span class="t th f7" style="top:705.30px;left:156.38px;transform:scaleX(1.1079);">Ambient Temperature</span>
<span class="t th f7" style="top:716.30px;left:99.58px;transform:scaleX(1.1000);">GlobInc</span>
<span class="t th f7" style="top:716.30px;left:156.38px;transform:scaleX(1.1036);">Global incident in coll. plane</span>
<span class="t th f7" style="top:683.00px;left:336.58px;transform:scaleX(1.2016);">GlobEff</span>
<span class="t th f7" style="top:683.00px;left:393.38px;transform:scaleX(1.1480);">Effective Global, corr. for IAM and shadings</span>
<span class="t th f7" style="top:694.30px;left:336.58px;transform:scaleX(1.1078);">EArray</span>
<span class="t th f7" style="top:694.30px;left:393.38px;transform:scaleX(1.1747);">Effective energy at the output of the array</span>
<span class="t th f7" style="top:705.30px;left:336.58px;transform:scaleX(1.0878);">E_Grid</span>
<span class="t th f7" style="top:705.30px;left:393.38px;transform:scaleX(1.1092);">Energy injected into grid</span>
<span class="t th f7" style="top:716.30px;left:336.58px;transform:scaleX(1.0284);">PR</span>
<span class="t th f7" style="top:716.30px;left:393.38px;transform:scaleX(1.1258);">Performance Ratio</span>
<span class="t th f7_5" style="top:750.00px;color:#bbb;left:5.55px;transform:scaleX(1.1000);">PVsyst Licensed to</span>
</body></html>
